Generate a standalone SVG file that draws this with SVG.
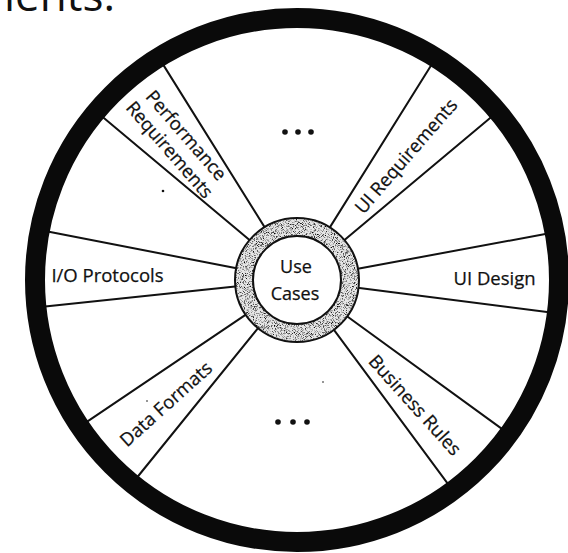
<svg xmlns="http://www.w3.org/2000/svg" width="568" height="553" viewBox="0 0 568 553">
  <style>
    .lbl { font-family: "Open Sans", "Noto Sans", sans-serif; font-size: 18.5px; fill: #111; text-anchor: middle; stroke: #111; stroke-width: 0.25; }
    .hubtxt { font-family: "Open Sans", "Noto Sans", sans-serif; font-size: 18px; fill: #111; text-anchor: middle; stroke: #111; stroke-width: 0.25; }
    .spoke { stroke: #111; stroke-width: 2; stroke-linecap: round; }
    .dot { fill: #111; }
  </style>
  <defs>
    <filter id="grain" x="-20%" y="-20%" width="140%" height="140%">
      <feTurbulence type="fractalNoise" baseFrequency="1.1" numOctaves="2" seed="5" result="noise"/>
      <feColorMatrix in="noise" type="matrix" values="0 0 0 0 0  0 0 0 0 0  0 0 0 0 0  -3 0 0 0 1.55" result="spots"/>
      <feComposite in="spots" in2="SourceGraphic" operator="in"/>
    </filter>
  </defs>
  <rect width="568" height="553" fill="#fff"/>

  <text x="4" y="11" font-family="Open Sans, Noto Sans, sans-serif" font-size="44" fill="#111">ients:</text>

  <g id="spokes">
    <line class="spoke" x1="254.9" y1="244.6" x2="99.4" y2="114.2"/>
    <line class="spoke" x1="268.3" y1="233.1" x2="162.2" y2="63.1"/>
    <line class="spoke" x1="326.1" y1="233.4" x2="433.7" y2="61.2"/>
    <line class="spoke" x1="339.1" y1="244.6" x2="494.6" y2="114.2"/>
    <line class="spoke" x1="351.1" y1="270.0" x2="550.7" y2="233.0"/>
    <line class="spoke" x1="351.6" y1="287.0" x2="552.9" y2="312.8"/>
    <line class="spoke" x1="341.5" y1="312.3" x2="505.7" y2="431.6"/>
    <line class="spoke" x1="329.7" y1="324.2" x2="450.5" y2="487.4"/>
    <line class="spoke" x1="262.4" y1="322.7" x2="134.6" y2="480.5"/>
    <line class="spoke" x1="251.4" y1="310.8" x2="83.1" y2="424.3"/>
    <line class="spoke" x1="242.3" y1="285.7" x2="40.4" y2="307.0"/>
    <line class="spoke" x1="243.0" y1="269.5" x2="43.8" y2="230.8"/>
  </g>

  <g id="wheel">
    <circle cx="297" cy="280" r="262" fill="none" stroke="#0a0a0a" stroke-width="20"/>
  </g>

  <g id="use-cases">
    <circle cx="297" cy="280" r="53" fill="none" stroke="#e6e6e6" stroke-width="18"/>
    <circle cx="297" cy="280" r="53" fill="none" stroke="#000" stroke-width="18" filter="url(#grain)"/>
    <circle cx="297" cy="280" r="62" fill="none" stroke="#111" stroke-width="2"/>
    <circle cx="297" cy="280" r="44" fill="#fff" stroke="#111" stroke-width="2"/>
    <text class="hubtxt" x="296" y="273">Use</text>
    <text class="hubtxt" x="295" y="300">Cases</text>
  </g>

  <g id="performance-requirements" transform="translate(178,142.5) rotate(49)">
    <text class="lbl" x="0" y="-4.5">Performance</text>
    <text class="lbl" x="0" y="17.5">Requirements</text>
  </g>

  <g id="ui-requirements" transform="translate(406,156) rotate(-49)">
    <text class="lbl" x="0" y="6.5">UI Requirements</text>
  </g>

  <g id="io-protocols">
    <text class="lbl" x="107.5" y="282">I/O Protocols</text>
  </g>

  <g id="ui-design">
    <text class="lbl" x="494.5" y="285">UI Design</text>
  </g>

  <g id="data-formats" transform="translate(166,404) rotate(-42)">
    <text class="lbl" x="0" y="6.5">Data Formats</text>
  </g>

  <g id="business-rules" transform="translate(415,405) rotate(48)">
    <text class="lbl" x="0" y="6.5">Business Rules</text>
  </g>

  <g id="more-top">
    <circle class="dot" cx="285" cy="132" r="2.8"/>
    <circle class="dot" cx="298" cy="132" r="2.8"/>
    <circle class="dot" cx="311" cy="132" r="2.8"/>
  </g>

  <g id="more-bottom">
    <circle class="dot" cx="278" cy="422" r="2.8"/>
    <circle class="dot" cx="293" cy="422" r="2.8"/>
    <circle class="dot" cx="307" cy="422" r="2.8"/>
  </g>

  <g id="specks">
    <circle class="dot" cx="163" cy="191" r="1.3"/>
    <circle class="dot" cx="147" cy="401" r="0.8"/>
    <circle class="dot" cx="323" cy="382" r="0.8"/>
  </g>
</svg>
